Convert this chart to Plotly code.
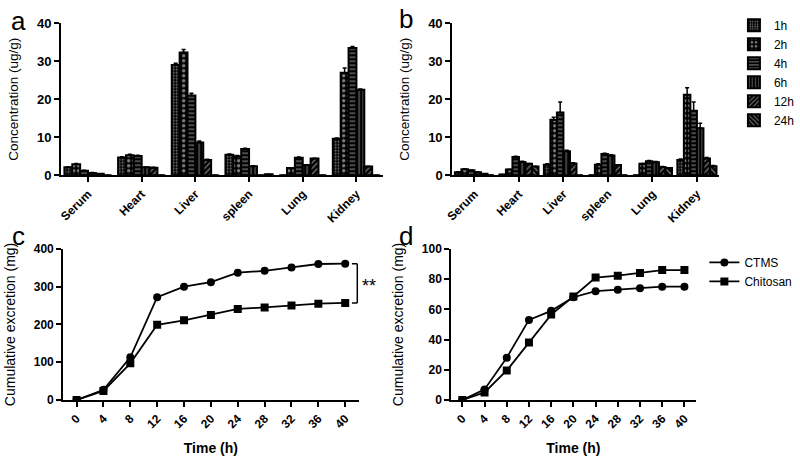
import plotly.graph_objects as go

# ---------------- data ----------------
organs = ["Serum", "Heart", "Liver", "spleen", "Lung", "Kidney"]
hours = ["1h", "2h", "4h", "6h", "12h", "24h"]

# panel a (values per hour, ordered as organs)
a_1h = [2.1, 4.7, 29.0, 5.4, 0.0, 9.6]
a_2h = [2.9, 5.3, 32.3, 5.0, 1.9, 27.0]
a_4h = [1.2, 5.1, 21.0, 6.9, 4.6, 33.5]
a_6h = [0.6, 2.1, 8.6, 2.4, 2.7, 22.5]
a_12h = [0.4, 2.0, 4.0, 0.0, 4.4, 2.3]
a_24h = [0.0, 0.0, 0.0, 0.3, 0.0, 0.0]
a_err_1h = [0.1, 0.2, 0.5, 0.2, 0.0, 0.2]
a_err_2h = [0.2, 0.2, 0.8, 0.2, 0.1, 1.2]
a_err_4h = [0.1, 0.2, 0.6, 0.2, 0.2, 0.4]
a_err_6h = [0.1, 0.1, 0.4, 0.1, 0.1, 0.2]
a_err_12h = [0.0, 0.1, 0.2, 0.0, 0.1, 0.1]
a_err_24h = [0.0, 0.0, 0.0, 0.0, 0.0, 0.0]

# panel b
b_1h = [0.8, 0.2, 2.8, 0.0, 0.0, 4.0]
b_2h = [1.6, 1.5, 14.6, 2.8, 3.0, 21.2]
b_4h = [1.3, 4.8, 16.5, 5.6, 3.7, 17.0]
b_6h = [0.8, 3.5, 6.3, 5.2, 3.4, 12.4]
b_12h = [0.4, 3.0, 3.1, 2.7, 2.2, 4.4]
b_24h = [0.0, 2.3, 0.0, 0.0, 1.9, 2.4]
b_err_1h = [0.1, 0.0, 0.2, 0.0, 0.0, 0.3]
b_err_2h = [0.1, 0.1, 0.7, 0.2, 0.1, 1.8]
b_err_4h = [0.1, 0.2, 2.8, 0.2, 0.2, 2.3]
b_err_6h = [0.1, 0.2, 0.3, 0.2, 0.2, 1.3]
b_err_12h = [0.0, 0.1, 0.2, 0.1, 0.1, 0.3]
b_err_24h = [0.0, 0.1, 0.0, 0.0, 0.1, 0.2]

# panels c, d
time_h = [0, 4, 8, 12, 16, 20, 24, 28, 32, 36, 40]
c_ctms = [0, 27, 113, 272, 300, 312, 337, 342, 351, 360, 361]
c_chitosan = [0, 24, 97, 199, 211, 225, 241, 245, 250, 255, 257]
d_ctms = [0, 7, 28, 53, 59, 68, 72, 73, 74, 75, 75]
d_chitosan = [0, 5, 19.5, 38, 56.5, 68.5, 81, 82.3, 84, 86, 86]

a_series = [a_1h, a_2h, a_4h, a_6h, a_12h, a_24h]
a_errs = [a_err_1h, a_err_2h, a_err_4h, a_err_6h, a_err_12h, a_err_24h]
b_series = [b_1h, b_2h, b_4h, b_6h, b_12h, b_24h]
b_errs = [b_err_1h, b_err_2h, b_err_4h, b_err_6h, b_err_12h, b_err_24h]

patterns = [
    dict(shape=".", fgcolor="white", bgcolor="black", size=3, solidity=0.3),
    dict(shape=".", fgcolor="white", bgcolor="black", size=5, solidity=0.35),
    dict(shape="-", fgcolor="white", bgcolor="black", size=4, solidity=0.3),
    dict(shape="|", fgcolor="white", bgcolor="black", size=4, solidity=0.25),
    dict(shape="/", fgcolor="white", bgcolor="black", size=4, solidity=0.3),
    dict(shape="\\", fgcolor="white", bgcolor="black", size=4, solidity=0.3),
]

FONT = "Liberation Sans, Arial, sans-serif"
W, H = 800, 456


def px(x0, x1):
    return [x0 / W, x1 / W]


def py(ytop, ybot):
    return [1 - ybot / H, 1 - ytop / H]


fig = go.Figure()

for i, h in enumerate(hours):
    fig.add_trace(go.Bar(
        x=organs, y=a_series[i], name=h, legendgroup=h,
        marker=dict(color="black", line=dict(color="black", width=2), pattern=patterns[i]),
        error_y=dict(type="data", array=a_errs[i], arrayminus=[0] * 6, symmetric=False,
                     color="black", thickness=1.5, width=2),
        xaxis="x", yaxis="y", showlegend=True,
    ))
for i, h in enumerate(hours):
    fig.add_trace(go.Bar(
        x=organs, y=b_series[i], name=h, legendgroup=h,
        marker=dict(color="black", line=dict(color="black", width=2), pattern=patterns[i]),
        error_y=dict(type="data", array=b_errs[i], arrayminus=[0] * 6, symmetric=False,
                     color="black", thickness=1.5, width=2),
        xaxis="x2", yaxis="y2", showlegend=False,
    ))

line_style = dict(color="black", width=1.8)
fig.add_trace(go.Scatter(x=time_h, y=c_ctms, mode="lines+markers", name="CTMS",
                         line=line_style, marker=dict(symbol="circle", size=8, color="black"),
                         xaxis="x3", yaxis="y3", showlegend=False))
fig.add_trace(go.Scatter(x=time_h, y=c_chitosan, mode="lines+markers", name="Chitosan",
                         line=line_style, marker=dict(symbol="square", size=8, color="black"),
                         xaxis="x3", yaxis="y3", showlegend=False))
fig.add_trace(go.Scatter(x=time_h, y=d_ctms, mode="lines+markers", name="CTMS",
                         line=line_style, marker=dict(symbol="circle", size=8, color="black"),
                         xaxis="x4", yaxis="y4", legend="legend2"))
fig.add_trace(go.Scatter(x=time_h, y=d_chitosan, mode="lines+markers", name="Chitosan",
                         line=line_style, marker=dict(symbol="square", size=8, color="black"),
                         xaxis="x4", yaxis="y4", legend="legend2"))


def axis(domain, anchor, tsize=12, **kw):
    d = dict(domain=domain, anchor=anchor, showline=True, linecolor="black", linewidth=2,
             ticks="outside", ticklen=5, tickwidth=2, tickcolor="black",
             showgrid=False, zeroline=False,
             tickfont=dict(family=FONT, size=tsize, color="black", weight="bold"))
    d.update(kw)
    return d


ytitle_bar = dict(family=FONT, size=13.5, color="black")
ytitle_line = dict(family=FONT, size=14, color="black")
xtitle_font = dict(family=FONT, size=14, color="black", weight="bold")

fig.update_layout(
    width=W, height=H,
    margin=dict(l=0, r=0, t=0, b=0),
    paper_bgcolor="white", plot_bgcolor="white",
    font=dict(family=FONT, color="black"),
    barmode="group", bargap=0.12, bargroupgap=0,
    xaxis=axis(px(55, 382), "y", tsize=12, type="category", range=[-0.5, 5.5], tickangle=-45),
    yaxis=axis(py(17, 176), "x", tsize=13, range=[0, 40], tickvals=[0, 10, 20, 30, 40],
               title=dict(text="Concentration (ug/g)", font=ytitle_bar)),
    xaxis2=axis(px(452, 723), "y2", tsize=12, type="category", range=[-0.5, 5.5], tickangle=-45),
    yaxis2=axis(py(17, 176), "x2", tsize=13, range=[0, 40], tickvals=[0, 10, 20, 30, 40],
                title=dict(text="Concentration (ug/g)", font=ytitle_bar)),
    xaxis3=axis(px(57, 357), "y3", range=[-2, 42], tickvals=time_h, tickangle=-45,
                title=dict(text="Time (h)", font=xtitle_font)),
    yaxis3=axis(py(253, 411), "x3", range=[0, 400], tickvals=[0, 100, 200, 300, 400],
                title=dict(text="Cumulative excretion (mg)", font=ytitle_line)),
    xaxis4=axis(px(451, 699), "y4", range=[-2, 42], tickvals=time_h, tickangle=-45,
                title=dict(text="Time (h)", font=xtitle_font)),
    yaxis4=axis(py(253, 411), "x4", range=[0, 100], tickvals=[0, 20, 40, 60, 80, 100],
                title=dict(text="Cumulative excretion (mg)", font=ytitle_line)),
    legend=dict(x=738 / W, y=1 - 4 / H, xanchor="left", yanchor="top",
                font=dict(family=FONT, size=12, color="black"),
                bgcolor="rgba(0,0,0,0)", itemwidth=30, tracegroupgap=0),
    legend2=dict(x=708 / W, y=1 - 252 / H, xanchor="left", yanchor="top",
                 font=dict(family=FONT, size=12, color="black"),
                 bgcolor="rgba(0,0,0,0)", itemwidth=30),
)

# panel letters
for letter, x, y in [("a", 12, 15), ("b", 405, 13), ("c", 12, 239), ("d", 405, 239)]:
    fig.add_annotation(text=letter, x=x / W, y=1 - y / H, xref="paper", yref="paper",
                       showarrow=False, xanchor="center", yanchor="middle",
                       font=dict(family=FONT, size=26, color="black"))

# significance bracket for panel c, placed at the final values
top, bot = c_ctms[-1], c_chitosan[-1]
fig.add_shape(type="line", xref="x3", yref="y3", x0=41.8, x1=41.8, y0=bot, y1=top,
              line=dict(color="black", width=1.5))
fig.add_shape(type="line", xref="x3", yref="y3", x0=41.0, x1=41.8, y0=top, y1=top,
              line=dict(color="black", width=1.5))
fig.add_shape(type="line", xref="x3", yref="y3", x0=41.0, x1=41.8, y0=bot, y1=bot,
              line=dict(color="black", width=1.5))
fig.add_annotation(text="**", x=368 / W, y=1 - 292 / H, xref="paper", yref="paper",
                   showarrow=False, xanchor="center", yanchor="middle",
                   font=dict(family=FONT, size=18, color="black"))

fig.write_html("out.html", config={"displayModeBar": False},
               post_script="document.body.style.margin='0';")
